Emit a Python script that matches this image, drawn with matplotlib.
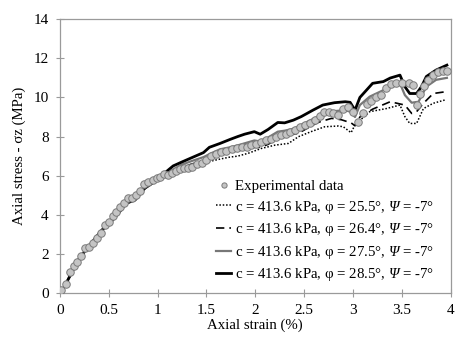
import numpy as np
import matplotlib
matplotlib.use("Agg")
import matplotlib.pyplot as plt

plt.rcParams["font.family"] = ["Liberation Serif", "DejaVu Serif"]
plt.rcParams["mathtext.fontset"] = "custom"
plt.rcParams["mathtext.rm"] = "Liberation Serif:italic"
plt.rcParams["mathtext.it"] = "Liberation Serif:italic"

# experimental data (strain %, stress MPa)
exp_x = [0.017, 0.061, 0.10, 0.143, 0.18, 0.22, 0.26, 0.30, 0.34, 0.38, 0.42, 0.46,
         0.50, 0.54, 0.58, 0.62, 0.66, 0.70, 0.74, 0.78, 0.82, 0.86, 0.90, 0.95,
         0.99, 1.03, 1.07, 1.11, 1.15, 1.19, 1.23, 1.27, 1.31, 1.35, 1.40, 1.45,
         1.50, 1.55, 1.60, 1.65, 1.70, 1.76, 1.81, 1.86, 1.91, 1.96, 2.01, 2.06,
         2.11, 2.16, 2.21, 2.26, 2.31, 2.36, 2.41, 2.46, 2.51, 2.56, 2.61, 2.66,
         2.70, 2.75, 2.80, 2.85, 2.90, 2.95, 3.00, 3.05, 3.10, 3.14, 3.18, 3.23,
         3.29, 3.34, 3.39, 3.44, 3.50, 3.57, 3.61, 3.65, 3.69, 3.73, 3.77, 3.82,
         3.87, 3.92, 3.96]
exp_y = [0.15, 0.44, 1.06, 1.40, 1.60, 1.91, 2.28, 2.37, 2.54, 2.80, 3.08, 3.47,
         3.64, 3.93, 4.16, 4.38, 4.62, 4.84, 4.88, 5.00, 5.20, 5.56, 5.70, 5.78,
         5.86, 5.93, 6.10, 6.06, 6.13, 6.25, 6.33, 6.40, 6.41, 6.46, 6.58, 6.67,
         6.78, 7.00, 7.12, 7.22, 7.28, 7.38, 7.42, 7.45, 7.48, 7.55, 7.60, 7.70,
         7.80, 7.90, 7.98, 8.06, 8.12, 8.22, 8.35, 8.50, 8.60, 8.67, 8.85, 9.05,
         9.27, 9.25, 9.22, 9.12, 9.39, 9.50, 9.27, 8.74, 9.20, 9.65, 9.82, 10.00,
         10.12, 10.47, 10.67, 10.72, 10.72, 10.76, 10.64, 9.60, 10.20, 10.56, 10.90, 11.14,
         11.31, 11.36, 11.36]

# common early part of the model curves
base_x = [0.0, 0.02, 0.10, 0.20, 0.32, 0.43, 0.51, 0.60, 0.68, 0.77, 0.87, 0.97, 1.05]
base_y = [0.0, 0.07, 0.84, 1.78, 2.54, 3.22, 3.56, 4.08, 4.59, 4.76, 5.36, 5.70, 6.05]

phi255_x = [1.10, 1.24, 1.35, 1.47, 1.55, 1.64, 1.74, 1.82, 1.93, 2.06, 2.20, 2.34, 2.44,
            2.57, 2.71, 2.85, 2.90, 2.98, 3.02, 3.17, 3.34, 3.48, 3.53, 3.58, 3.65,
            3.72, 3.82, 3.94]
phi255_y = [6.00, 6.30, 6.45, 6.60, 6.75, 6.85, 6.95, 7.00, 7.15, 7.39, 7.56, 7.65, 7.99,
            8.25, 8.50, 8.54, 8.50, 8.20, 8.60, 9.27, 9.43, 9.61, 9.02, 8.67, 8.67,
            9.43, 9.70, 9.87]

phi264_x = [1.10, 1.24, 1.35, 1.47, 1.55, 1.64, 1.74, 1.82, 1.99, 2.05, 2.13, 2.23, 2.30,
            2.44, 2.54, 2.64, 2.78, 2.88, 2.98, 3.02, 3.07, 3.20, 3.38, 3.53, 3.60,
            3.65, 3.72, 3.82, 3.96]
phi264_y = [6.10, 6.40, 6.60, 6.75, 6.95, 7.10, 7.20, 7.30, 7.45, 7.45, 7.60, 7.90, 8.07,
            8.16, 8.45, 8.72, 8.93, 8.86, 8.70, 8.55, 9.00, 9.40, 9.78, 9.61, 9.18,
            9.27, 9.70, 10.20, 10.30]

phi275_x = [1.10, 1.24, 1.35, 1.47, 1.55, 1.64, 1.74, 1.82, 1.99, 2.05, 2.13, 2.23, 2.30,
            2.39, 2.47, 2.59, 2.69, 2.81, 2.92, 2.97, 3.02, 3.07, 3.17, 3.31, 3.48,
            3.53, 3.60, 3.67, 3.75, 3.85, 3.96]
phi275_y = [6.15, 6.55, 6.75, 6.95, 7.15, 7.35, 7.45, 7.55, 7.80, 7.75, 7.95, 8.25, 8.30,
            8.40, 8.60, 8.90, 9.15, 9.30, 9.35, 9.27, 9.00, 9.61, 10.04, 10.37, 10.72,
            10.12, 9.73, 9.78, 10.55, 10.90, 11.00]

phi285_x = [1.10, 1.16, 1.24, 1.35, 1.47, 1.53, 1.64, 1.74, 1.82, 1.89, 1.99, 2.05, 2.13,
            2.23, 2.30, 2.39, 2.47, 2.59, 2.69, 2.81, 2.92, 2.97, 3.02, 3.07, 3.20,
            3.31, 3.38, 3.48, 3.53, 3.58, 3.65, 3.70, 3.75, 3.85, 3.96]
phi285_y = [6.25, 6.50, 6.68, 6.92, 7.18, 7.45, 7.65, 7.85, 8.00, 8.12, 8.25, 8.12, 8.36,
            8.72, 8.70, 8.84, 9.02, 9.35, 9.61, 9.73, 9.78, 9.75, 9.35, 10.00, 10.72,
            10.81, 10.99, 11.14, 10.55, 10.20, 10.20, 10.55, 11.07, 11.40, 11.65]

labels = ["c = 413.6 kPa, φ = 25.5°, $\\Psi$ = -7°",
          "c = 413.6 kPa, φ = 26.4°, $\\Psi$ = -7°",
          "c = 413.6 kPa, φ = 27.5°, $\\Psi$ = -7°",
          "c = 413.6 kPa, φ = 28.5°, $\\Psi$ = -7°"]

fig = plt.figure(figsize=(4.6, 3.42), dpi=100)
ax = fig.add_axes([0.130, 0.143, 0.850, 0.801])

curves = [(phi255_x, phi255_y, dict(color="black", lw=1.1, ls=(0, (1, 1.2)))),
          (phi264_x, phi264_y, dict(color="black", lw=1.2, ls=(0, (5, 3)))),
          (phi275_x, phi275_y, dict(color="#777777", lw=1.6, ls="-")),
          (phi285_x, phi285_y, dict(color="black", lw=2.0, ls="-"))]

handles = []
for (cx, cy, st), lab in zip(curves, labels):
    h, = ax.plot(base_x + cx, base_y + cy, label=lab, zorder=2, **st)
    handles.append(h)

hm, = ax.plot(exp_x, exp_y, ls="none", marker="o", ms=5.4, mfc="#c4c4c4",
              mec="#7a7a7a", mew=0.7, zorder=3, label="Experimental data")

ax.set_xlim(0, 4)
ax.set_ylim(0, 14)
ax.set_xticks([0, 0.5, 1, 1.5, 2, 2.5, 3, 3.5, 4])
ax.set_xticklabels(["0", "0.5", "1", "1.5", "2", "2.5", "3", "3.5", "4"])
ax.set_yticks(range(0, 15, 2))
for s in ax.spines.values():
    s.set_color("#9a9a9a")
    s.set_linewidth(0.9)
ax.tick_params(direction="inout", length=6, width=0.8, color="#9a9a9a",
               labelsize=11, pad=5)
ax.set_xlabel("Axial strain (%)", fontsize=10.7, labelpad=1)
ax.set_ylabel("Axial stress - σz (MPa)", fontsize=10.7, labelpad=5)

ax.legend([hm] + handles, ["Experimental data"] + labels, loc="center left",
          bbox_to_anchor=(0.38, 0.225), frameon=False, fontsize=10.7,
          handlelength=1.05, handletextpad=0.25, labelspacing=0.38, borderpad=0,
          markerscale=0.7)

fig.savefig("out.png", dpi=100)
